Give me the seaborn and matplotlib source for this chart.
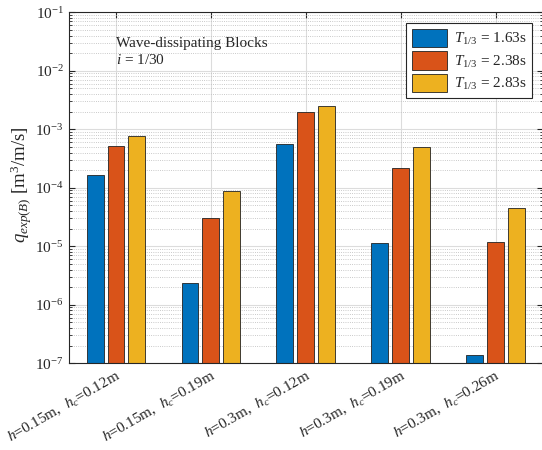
import numpy as np
import pandas as pd
import matplotlib
matplotlib.use("Agg")
import matplotlib.pyplot as plt
from matplotlib.ticker import LogLocator, LogFormatterMathtext, NullFormatter
import seaborn as sns

# Wave-overtopping discharge per test condition and significant wave period
conditions = [
    "$h$=0.15m,  $h_c$=0.12m",
    "$h$=0.15m,  $h_c$=0.19m",
    "$h$=0.3m,  $h_c$=0.12m",
    "$h$=0.3m,  $h_c$=0.19m",
    "$h$=0.3m,  $h_c$=0.26m",
]
periods = ["$T_{1/3}$ = 1.63s", "$T_{1/3}$ = 2.38s", "$T_{1/3}$ = 2.83s"]
q_T163 = [1.66e-4, 2.4e-6, 5.5e-4, 1.15e-5, 1.4e-7]
q_T238 = [5.1e-4, 3.1e-5, 2.0e-3, 2.2e-4, 1.19e-5]
q_T283 = [7.6e-4, 8.8e-5, 2.5e-3, 5.0e-4, 4.55e-5]
colors = ["#0072BD", "#D95319", "#EDB120"]

df = pd.DataFrame({
    "condition": conditions * 3,
    "period": [periods[0]] * 5 + [periods[1]] * 5 + [periods[2]] * 5,
    "q": q_T163 + q_T238 + q_T283,
})

sns.set_theme(style="white")
plt.rcParams["font.family"] = ["Liberation Serif", "DejaVu Serif"]
plt.rcParams["mathtext.fontset"] = "custom"
plt.rcParams["mathtext.rm"] = "Liberation Serif"
plt.rcParams["mathtext.it"] = "Liberation Serif:italic"
plt.rcParams["mathtext.bf"] = "Liberation Serif:bold"

fig = plt.figure(figsize=(5.42, 4.5), dpi=100)
ax = fig.add_axes([0.1264, 0.1927, 0.8755, 0.78])

sns.barplot(data=df, x="condition", y="q", hue="period", palette=colors,
            width=0.66, gap=0.19, edgecolor="#222222", linewidth=0.6,
            log_scale=(False, True), ax=ax, errorbar=None, saturation=1)

ax.set_yscale("log")
ax.set_ylim(1e-7, 1e-1)
ax.set_xlim(-0.5, 4.5)
ax.yaxis.set_major_locator(LogLocator(base=10, numticks=10))
ax.yaxis.set_major_formatter(LogFormatterMathtext())
ax.yaxis.set_minor_locator(LogLocator(base=10, subs=np.arange(2, 10), numticks=100))
ax.yaxis.set_minor_formatter(NullFormatter())

ax.grid(True, which="major", axis="both", color="#dcdcdc", linewidth=0.8, linestyle="-")
ax.grid(True, which="minor", axis="y", color="#b8b8b8", linewidth=0.6, linestyle=":")
ax.set_axisbelow(True)

ax.tick_params(which="both", direction="in", top=True, right=True, left=True, bottom=True,
               labelsize=11, colors="#262626")
ax.tick_params(which="major", length=4, width=0.8)
ax.tick_params(which="minor", length=2, width=0.6)
for s in ax.spines.values():
    s.set_color("#262626")
    s.set_linewidth(0.8)

ax.set_xlabel("")
ax.set_ylabel("$q_{exp(B)}$ [m$^3$/m/s]", fontsize=13.5, color="#262626")
ax.yaxis.set_label_coords(-0.074, 0.51)
ax.set_xticks(range(len(conditions)))
ax.set_xticklabels(conditions, rotation=30, ha="right", rotation_mode="anchor", fontsize=11)

ax.text(0.1, 0.93, "Wave-dissipating Blocks\n$i$ = 1/30", transform=ax.transAxes,
        fontsize=11, va="top", ha="left", linespacing=1.3, color="#262626")

leg = ax.legend(loc="upper right", bbox_to_anchor=(0.983, 0.977), fontsize=11,
                frameon=True, fancybox=False, edgecolor="#262626", handlelength=2.3,
                handleheight=1.5, borderpad=0.35, labelspacing=0.25, handletextpad=0.45,
                borderaxespad=0.2)
leg.get_frame().set_linewidth(0.8)
leg.get_frame().set_alpha(1)

fig.savefig("out.png", dpi=100)
